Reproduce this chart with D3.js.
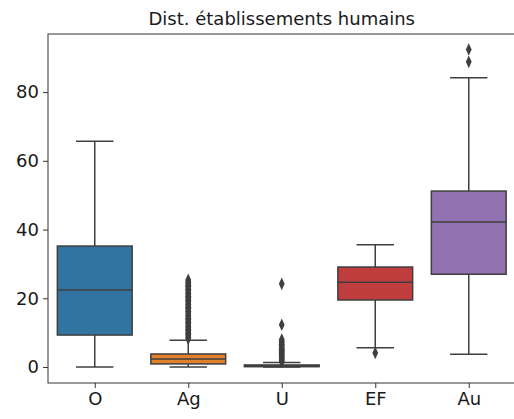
<!DOCTYPE html>
<html><head><meta charset="utf-8">
<script src="https://cdn.jsdelivr.net/npm/d3@7"></script>
<style>body{margin:0;background:#fff}svg{display:block}text{font-family:"DejaVu Sans",sans-serif}</style>
</head><body><svg id="c" width="514" height="419"></svg>
<script>
const categories = ["O", "Ag", "U", "EF", "Au"];
const colors = ["#3274a1", "#e1812c", "#3a923a", "#c03d3e", "#9372b2"];
const whiskerLow = [0, 0, 0, 5.6, 3.7];
const q1 = [9.3, 0.9, 0.1, 19.5, 27.0];
const median = [22.4, 2.3, 0.3, 24.7, 42.2];
const q3 = [35.2, 3.8, 0.6, 29.1, 51.2];
const whiskerHigh = [65.7, 7.8, 1.3, 35.6, 84.2];
const outliersO = [];
const outliersAg = [8.2,8.6,9.0,9.4,9.8,10.2,10.6,11.0,11.4,11.8,12.2,12.6,13.0,13.4,13.8,14.2,14.6,15.0,15.4,15.8,16.2,16.6,17.0,17.4,17.8,18.2,18.6,19.0,19.4,19.8,20.2,20.6,21.0,21.4,21.8,22.2,22.6,23.0,23.4,23.8,24.2,24.6,25.0,25.4];
const outliersU = [1.5,1.8,2.1,2.4,2.7,3.0,3.3,3.6,3.9,4.2,4.5,4.8,5.1,5.4,5.8,6.2,6.6,7.0,7.5,8.0,12.3,24.2];
const outliersEF = [4.1];
const outliersAu = [88.8, 92.4];
const outliers = [outliersO, outliersAg, outliersU, outliersEF, outliersAu];
const yTicks = [0, 20, 40, 60, 80];
const title = "Dist. établissements humains";

const svg = d3.select("#c");
const L = 48, R = 515.5, T = 34, B = 383;
const x = d3.scaleLinear().domain([-0.5, 4.5]).range([L, R]);
const y = d3.scaleLinear().domain([-4.65, 96.9]).range([B, T]);
const band = x(1) - x(0);
const bw = band * 0.8;
const line = "#3f3f3f";

const g = svg.append("g");
categories.forEach((c, i) => {
  const cx = x(i);
  g.append("line").attr("x1", cx).attr("x2", cx).attr("y1", y(q3[i])).attr("y2", y(whiskerHigh[i])).attr("stroke", line).attr("stroke-width", 1.5);
  g.append("line").attr("x1", cx).attr("x2", cx).attr("y1", y(q1[i])).attr("y2", y(whiskerLow[i])).attr("stroke", line).attr("stroke-width", 1.5);
  [whiskerHigh[i], whiskerLow[i]].forEach(v => {
    g.append("line").attr("x1", cx - bw / 4).attr("x2", cx + bw / 4).attr("y1", y(v)).attr("y2", y(v)).attr("stroke", line).attr("stroke-width", 1.5);
  });
  g.append("rect").attr("x", cx - bw / 2).attr("width", bw).attr("y", y(q3[i])).attr("height", Math.max(0.5, y(q1[i]) - y(q3[i])))
    .attr("fill", colors[i]).attr("stroke", line).attr("stroke-width", 1.5);
  g.append("line").attr("x1", cx - bw / 2).attr("x2", cx + bw / 2).attr("y1", y(median[i])).attr("y2", y(median[i])).attr("stroke", line).attr("stroke-width", 1.5);
  const sym = d3.symbol().type(d3.symbolDiamond).size(32);
  outliers[i].forEach(v => {
    g.append("path").attr("d", sym()).attr("transform", `translate(${cx},${y(v)}) scale(0.95,1.2)`).attr("fill", line);
  });
});

svg.append("rect").attr("x", L).attr("y", T).attr("width", R - L).attr("height", B - T).attr("fill", "none").attr("stroke", "#333").attr("stroke-width", 1);

const ya = svg.append("g").attr("transform", `translate(${L},0)`).call(d3.axisLeft(y).tickValues(yTicks).tickSize(5).tickPadding(4));
ya.select(".domain").remove();
ya.selectAll("line").attr("stroke", "#333");
ya.selectAll("text").attr("font-size", 18).attr("fill", "#1a1a1a");

const xa = svg.append("g").attr("transform", `translate(0,${B})`).call(d3.axisBottom(x).tickValues(d3.range(categories.length)).tickFormat(i => categories[i]).tickSize(5).tickPadding(4));
xa.select(".domain").remove();
xa.selectAll("line").attr("stroke", "#333");
xa.selectAll("text").attr("font-size", 18).attr("fill", "#1a1a1a");

svg.append("text").attr("x", (L + R) / 2).attr("y", 25).attr("text-anchor", "middle").attr("font-size", 18).attr("fill", "#1a1a1a").text(title);
</script></body></html>
